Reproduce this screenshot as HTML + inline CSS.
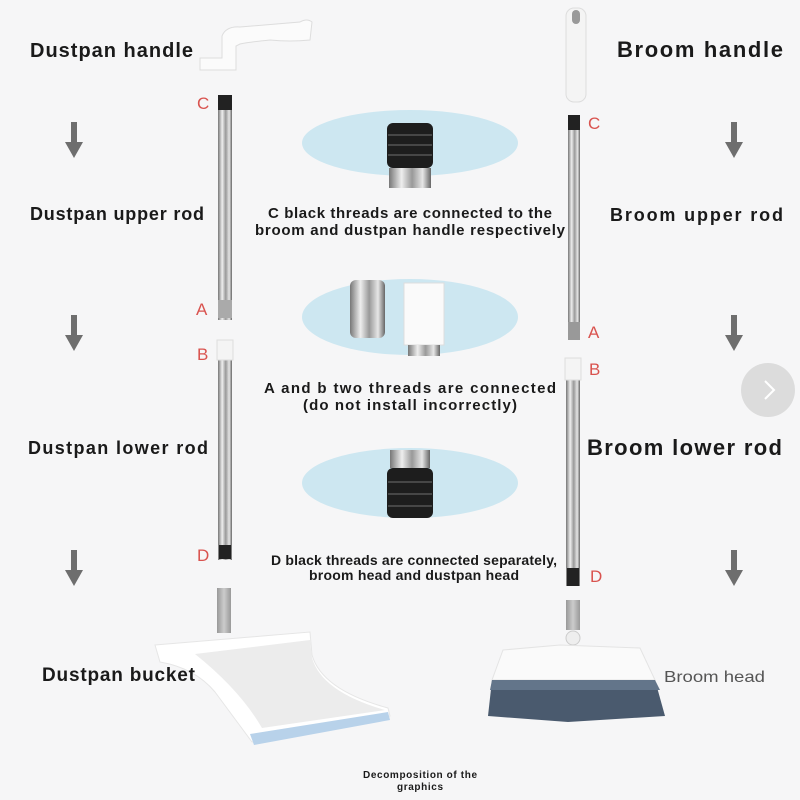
<!DOCTYPE html>
<html><head><meta charset="utf-8"><style>
html,body{margin:0;padding:0;background:#f6f6f7;}
svg{display:block}
text{font-family:"Liberation Sans",sans-serif;}
</style></head><body>
<svg width="800" height="800" viewBox="0 0 800 800" xmlns="http://www.w3.org/2000/svg">
<defs>
<linearGradient id="steel" x1="0" x2="1" y1="0" y2="0">
<stop offset="0" stop-color="#777"/><stop offset="0.3" stop-color="#eee"/><stop offset="0.55" stop-color="#999"/><stop offset="0.8" stop-color="#e6e6e6"/><stop offset="1" stop-color="#666"/>
</linearGradient>
<linearGradient id="gray" x1="0" x2="1"><stop offset="0" stop-color="#999"/><stop offset="0.5" stop-color="#ccc"/><stop offset="1" stop-color="#999"/></linearGradient>
<g id="arrow"><rect x="-3" y="0" width="6" height="22" fill="#6e6e6e"/><polygon points="-9,20 9,20 0,36" fill="#6e6e6e"/></g>
</defs>
<rect width="800" height="800" fill="#f6f6f7"/>

<use href="#arrow" x="74" y="122"/><use href="#arrow" x="74" y="315"/><use href="#arrow" x="74" y="550"/>
<use href="#arrow" x="734" y="122"/><use href="#arrow" x="734" y="315"/><use href="#arrow" x="734" y="550"/>

<g fill="#d9534f" font-size="17">
<text x="197" y="109">C</text><text x="196" y="315">A</text><text x="197" y="360">B</text><text x="197" y="561">D</text>
<text x="588" y="129">C</text><text x="588" y="338">A</text><text x="589" y="375">B</text><text x="590" y="582">D</text>
</g>

<path d="M200 58 L222 58 L222 36 Q226 26 240 27 L300 22 Q307 18 312 22 L310 40 Q290 42 270 40 Q250 42 240 44 L236 46 L236 70 L200 70 Z" fill="#fbfbfb" stroke="#ddd"/>
<rect x="218" y="95" width="14" height="225" fill="url(#steel)"/>
<rect x="218" y="95" width="14" height="15" fill="#222"/>
<rect x="218" y="300" width="14" height="18" fill="#aaa"/>
<rect x="218" y="340" width="14" height="220" fill="url(#steel)"/>
<rect x="217" y="340" width="16" height="20" fill="#f4f4f4" stroke="#ddd"/>
<rect x="219" y="545" width="12" height="14" fill="#222"/>

<rect x="217" y="588" width="14" height="45" fill="url(#gray)"/>
<path d="M155 645 L310 632 L312 655 Q322 690 388 708 L390 716 L252 742 Q232 715 215 692 Q195 668 160 662 Z" fill="#fff" stroke="#e6e6e6"/>
<path d="M195 654 L310 640 L312 658 Q322 692 385 710 L262 728 Q240 690 195 654 Z" fill="#ececec"/>
<path d="M250 734 L388 712 L390 720 L254 745 Z" fill="#b8d2ea"/>

<rect x="566" y="8" width="20" height="94" rx="8" fill="#f4f4f4" stroke="#ddd"/>
<rect x="572" y="10" width="8" height="14" rx="4" fill="#999"/>
<rect x="568" y="115" width="12" height="225" fill="url(#steel)"/>
<rect x="568" y="115" width="12" height="15" fill="#222"/>
<rect x="568" y="322" width="12" height="18" fill="#999"/>
<rect x="566" y="358" width="14" height="228" fill="url(#steel)"/>
<rect x="565" y="358" width="16" height="22" fill="#f4f4f4" stroke="#ddd"/>
<rect x="567" y="568" width="12" height="18" fill="#222"/>
<rect x="566" y="600" width="14" height="30" fill="url(#gray)"/>
<circle cx="573" cy="638" r="7" fill="#eee" stroke="#ccc"/>
<path d="M503 650 L560 645 L640 648 L655 680 L492 680 Z" fill="#fafafa" stroke="#e4e4e4"/>
<path d="M492 680 L655 680 L665 716 L568 722 L488 716 Z" fill="#4a5a6e"/>
<path d="M492 680 L655 680 L660 690 L490 690 Z" fill="#63758a"/>

<ellipse cx="410" cy="143" rx="108" ry="33" fill="#cde7f1"/>
<ellipse cx="410" cy="317" rx="108" ry="38" fill="#cde7f1"/>
<ellipse cx="410" cy="483" rx="108" ry="35" fill="#cde7f1"/>
<rect x="387" y="123" width="46" height="45" rx="6" fill="#1d1d1d"/>
<g stroke="#555" stroke-width="1.5"><line x1="388" y1="135" x2="432" y2="135"/><line x1="388" y1="145" x2="432" y2="145"/><line x1="388" y1="155" x2="432" y2="155"/></g>
<rect x="389" y="168" width="42" height="20" fill="url(#steel)"/>
<rect x="350" y="280" width="35" height="58" rx="6" fill="url(#steel)"/>
<rect x="404" y="283" width="40" height="62" fill="#fafafa" stroke="#ddd"/>
<rect x="408" y="345" width="32" height="11" fill="url(#steel)"/>
<rect x="390" y="450" width="40" height="18" fill="url(#steel)"/>
<rect x="387" y="468" width="46" height="50" rx="6" fill="#1d1d1d"/>
<g stroke="#555" stroke-width="1.5"><line x1="388" y1="482" x2="432" y2="482"/><line x1="388" y1="494" x2="432" y2="494"/><line x1="388" y1="506" x2="432" y2="506"/></g>

<g font-weight="bold" fill="#1a1a1a" lengthAdjust="spacingAndGlyphs">
<text x="30" y="57" font-size="20" textLength="163">Dustpan handle</text>
<text x="30" y="220" font-size="18" textLength="174">Dustpan upper rod</text>
<text x="28" y="454" font-size="18" textLength="180">Dustpan lower rod</text>
<text x="42" y="681" font-size="19" textLength="153">Dustpan bucket</text>
<text x="617" y="57" font-size="22" textLength="166">Broom handle</text>
<text x="610" y="221" font-size="18" textLength="173">Broom upper rod</text>
<text x="587" y="455" font-size="22" textLength="195">Broom lower rod</text>
</g>
<text x="664" y="682" font-size="16" fill="#555" textLength="101" lengthAdjust="spacingAndGlyphs">Broom head</text>

<g font-weight="bold" font-size="15" fill="#1a1a1a" text-anchor="middle" lengthAdjust="spacingAndGlyphs">
<text x="410" y="218" textLength="284">C black threads are connected to the</text>
<text x="410" y="235" textLength="310">broom and dustpan handle respectively</text>
<text x="410" y="393" textLength="292">A and b two threads are connected</text>
<text x="410" y="410" textLength="214">(do not install incorrectly)</text>
<text x="414" y="565" font-size="14" textLength="286">D black threads are connected separately,</text>
<text x="414" y="580" font-size="14" textLength="210">broom head and dustpan head</text>
<text x="420" y="778" font-size="10" textLength="114">Decomposition of the</text>
<text x="420" y="790" font-size="10" textLength="46">graphics</text>
</g>

<circle cx="768" cy="390" r="27" fill="#dcdcdc"/>
<polyline points="765,381 774,390 765,399" fill="none" stroke="#fff" stroke-width="2"/>
</svg>
</body></html>
